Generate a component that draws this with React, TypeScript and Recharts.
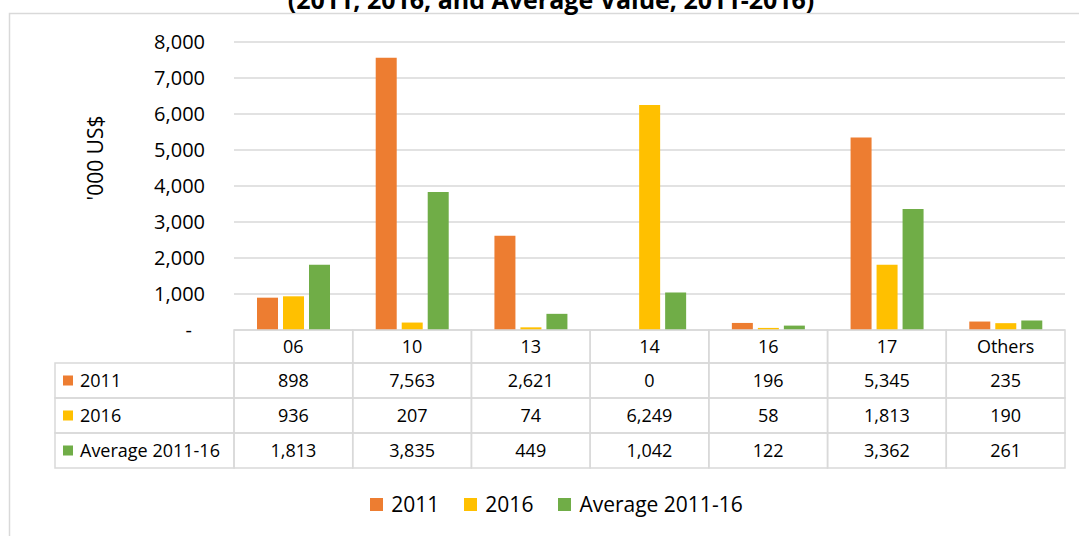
import React from 'react';
import { BarChart, Bar, XAxis, YAxis, CartesianGrid, Legend } from 'recharts';

const categories = ['06', '10', '13', '14', '16', '17', 'Others'];
const values2011 = [898, 7563, 2621, 0, 196, 5345, 235];
const values2016 = [936, 207, 74, 6249, 58, 1813, 190];
const valuesAvg = [1813, 3835, 449, 1042, 122, 3362, 261];
const yTicks = [0, 1000, 2000, 3000, 4000, 5000, 6000, 7000, 8000];

const series = [
  { key: 'y2011', name: '2011', color: '#ED7D31', values: values2011 },
  { key: 'y2016', name: '2016', color: '#FFC000', values: values2016 },
  { key: 'avg', name: 'Average 2011-16', color: '#70AD47', values: valuesAvg },
];

const data = categories.map((code, i) => ({
  code,
  y2011: values2011[i],
  y2016: values2016[i],
  avg: valuesAvg[i],
}));

const FONT = '"Open Sans", sans-serif';
const LINE = '#d9d9d9';
const HEAD_H = 33;
const ROW_H = 35;
const LABEL_LEFT = 55;

const fmt = (v: number) => v.toLocaleString('en-US');

function YTick(props: any) {
  const { x, y, payload } = props;
  const v = payload.value;
  return (
    <text x={v === 0 ? x - 13 : x} y={y} dy="0.35em" textAnchor="end" fontSize={20} fontFamily={FONT} fill="#000">
      {v === 0 ? '-' : fmt(v)}
    </text>
  );
}

// each x tick draws its own column of the data table
function TableTick(props: any) {
  const { x, y, payload, index } = props;
  const half = payload.offset || 59.36;
  const left = x - half;
  const w = half * 2;
  const i = categories.indexOf(payload.value);
  const cells = [];
  cells.push(
    <g key="h">
      <rect x={left} y={y} width={w} height={HEAD_H} fill="none" stroke={LINE} strokeWidth={1.5} />
      <text x={x} y={y + HEAD_H / 2} dy="0.35em" textAnchor="middle" fontSize={18} fontFamily={FONT} fill="#000">
        {payload.value}
      </text>
    </g>
  );
  series.forEach((s, r) => {
    const ry = y + HEAD_H + r * ROW_H;
    cells.push(
      <g key={s.key}>
        <rect x={left} y={ry} width={w} height={ROW_H} fill="none" stroke={LINE} strokeWidth={1.5} />
        <text x={x} y={ry + ROW_H / 2} dy="0.35em" textAnchor="middle" fontSize={18} fontFamily={FONT} fill="#000">
          {fmt(s.values[i])}
        </text>
      </g>
    );
    if (index === 0) {
      cells.push(
        <g key={s.key + '-label'}>
          <rect x={LABEL_LEFT} y={ry} width={left - LABEL_LEFT} height={ROW_H} fill="none" stroke={LINE} strokeWidth={1.5} />
          <rect x={LABEL_LEFT + 8} y={ry + ROW_H / 2 - 5} width={10} height={10} fill={s.color} />
          <text x={LABEL_LEFT + 25} y={ry + ROW_H / 2} dy="0.35em" fontSize={18} fontFamily={FONT} fill="#000">
            {s.name}
          </text>
        </g>
      );
    }
  });
  return <g>{cells}</g>;
}

function LegendContent() {
  return (
    <div style={{ display: 'flex', justifyContent: 'center', gap: 25, fontFamily: FONT, fontSize: 21, color: '#000', paddingLeft: 34 }}>
      {series.map((s) => (
        <div key={s.key} style={{ display: 'flex', alignItems: 'center', gap: 8 }}>
          <span style={{ width: 13, height: 13, background: s.color, display: 'inline-block' }} />
          <span>{s.name}</span>
        </div>
      ))}
    </div>
  );
}

export default function App() {
  return (
    <div style={{ position: 'absolute', left: 0, top: 0, width: 1079, height: 536, background: '#fff' }}>
      <BarChart
        width={1079}
        height={536}
        data={data}
        margin={{ top: 42, right: 14, left: 154, bottom: 66 }}
        barCategoryGap={23}
        barGap={5}
      >
        <rect x={9.5} y={13.5} width={1200} height={700} fill="none" stroke={LINE} strokeWidth={1.5} />
        <text x={551} y={9} textAnchor="middle" fontSize={25} fontWeight="bold" fontFamily={FONT} fill="#000">
          (2011, 2016, and Average Value, 2011-2016)
        </text>
        <CartesianGrid vertical={false} stroke={LINE} strokeWidth={1.5} />
        <XAxis
          dataKey="code"
          axisLine={false}
          tickLine={false}
          tickSize={0}
          tickMargin={0}
          height={140}
          interval={0}
          tick={<TableTick />}
        />
        <YAxis
          width={80}
          domain={[0, 8000]}
          ticks={yTicks}
          axisLine={false}
          tickLine={false}
          tickSize={0}
          tickMargin={29}
          tick={<YTick />}
          label={() => (
            <text x={96} y={158} transform="rotate(-90 96 158)" textAnchor="middle" dy="0.35em" fontSize={21} fontFamily={FONT} fill="#000">
              '000 US$
            </text>
          )}
        />
        {series.map((s) => (
          <Bar key={s.key} dataKey={s.key} name={s.name} fill={s.color} isAnimationActive={false} />
        ))}
        <Legend
          layout="horizontal"
          align="center"
          verticalAlign="middle"
          content={<LegendContent />}
          wrapperStyle={{ top: 490, left: 0, width: 1079 }}
        />
      </BarChart>
    </div>
  );
}
